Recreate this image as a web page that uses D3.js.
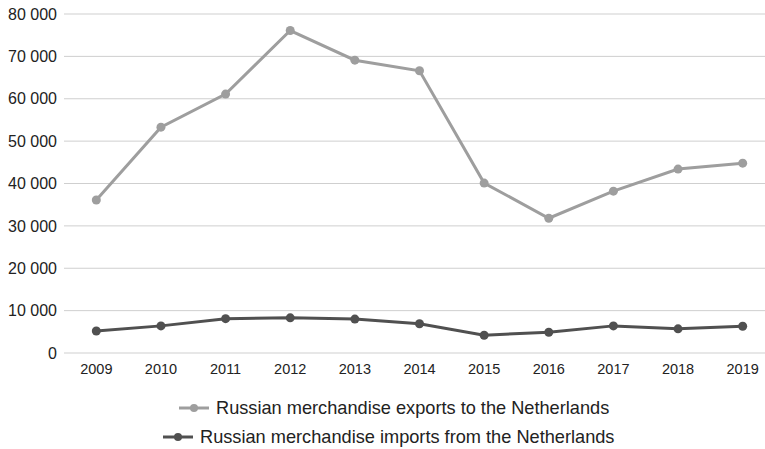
<!DOCTYPE html>
<html>
<head>
<meta charset="utf-8">
<script src="https://cdn.jsdelivr.net/npm/d3@7"></script>
<style>
  body { margin: 0; background: #fff; }
  svg { display: block; font-family: "Liberation Sans", Arial, sans-serif; }
</style>
</head>
<body>
<svg id="chart" width="765" height="449"></svg>
<script>
// Years on the x axis
const years = ['2009', '2010', '2011', '2012', '2013', '2014', '2015', '2016', '2017', '2018', '2019'];

// Values
const exportsToNL = [36100, 53300, 61100, 76100, 69100, 66600, 40100, 31800, 38200, 43400, 44800];
const importsFromNL = [5200, 6400, 8100, 8300, 8000, 6900, 4200, 4900, 6400, 5700, 6300];

const yTicks = [0, 10000, 20000, 30000, 40000, 50000, 60000, 70000, 80000];

const seriesNames = [
  'Russian merchandise exports to the Netherlands',
  'Russian merchandise imports from the Netherlands'
];

const colors = ['#9e9e9e', '#505050'];

const svg = d3.select('#chart');
const margin = { top: 14, right: -10, bottom: 96, left: 64 };
const width = 765 - margin.left - margin.right;
const height = 449 - margin.top - margin.bottom;

const g = svg.append('g')
  .attr('transform', `translate(${margin.left},${margin.top})`);

const x = d3.scaleBand().domain(years).range([0, width]);
const y = d3.scaleLinear().domain([0, 80000]).range([height, 0]);

const fmt = v => d3.format(',')(v).replace(/,/g, ' ');

// Grid lines
g.append('g')
  .selectAll('line')
  .data(yTicks)
  .join('line')
  .attr('x1', 0)
  .attr('x2', width)
  .attr('y1', d => y(d))
  .attr('y2', d => y(d))
  .attr('stroke', '#cfcfcf')
  .attr('stroke-width', 1);

// Y axis labels
const yAxis = g.append('g')
  .call(d3.axisLeft(y).tickValues(yTicks).tickFormat(fmt).tickSize(0).tickPadding(7));
yAxis.select('.domain').remove();
yAxis.selectAll('text')
  .attr('font-size', 16)
  .attr('fill', '#222')
  .attr('font-family', '"Liberation Sans", Arial, sans-serif');

// X axis labels
const xAxis = g.append('g')
  .attr('transform', `translate(0,${height})`)
  .call(d3.axisBottom(x).tickSize(0).tickPadding(11));
xAxis.select('.domain').remove();
xAxis.selectAll('text')
  .attr('font-size', 14.5)
  .attr('fill', '#222')
  .attr('font-family', '"Liberation Sans", Arial, sans-serif');

const cx = d => x(d) + x.bandwidth() / 2;

const line = d3.line()
  .x((d, i) => cx(years[i]))
  .y(d => y(d));

[exportsToNL, importsFromNL].forEach((values, i) => {
  g.append('path')
    .datum(values)
    .attr('fill', 'none')
    .attr('stroke', colors[i])
    .attr('stroke-width', 3)
    .attr('d', line);

  g.append('g')
    .selectAll('circle')
    .data(values)
    .join('circle')
    .attr('cx', (d, j) => cx(years[j]))
    .attr('cy', d => y(d))
    .attr('r', 4.5)
    .attr('fill', colors[i]);
});

// Legend
const legendRows = [
  { x: 179, y: 408 },
  { x: 163, y: 437 }
];

seriesNames.forEach((name, i) => {
  const row = svg.append('g')
    .attr('transform', `translate(${legendRows[i].x},${legendRows[i].y})`);
  row.append('line')
    .attr('x1', 0).attr('x2', 30)
    .attr('y1', 0).attr('y2', 0)
    .attr('stroke', colors[i])
    .attr('stroke-width', 3);
  row.append('circle')
    .attr('cx', 15).attr('cy', 0).attr('r', 4)
    .attr('fill', colors[i]);
  row.append('text')
    .attr('x', 37)
    .attr('y', 6)
    .attr('font-size', 18.2)
    .attr('fill', '#222')
    .text(name);
});
</script>
</body>
</html>
